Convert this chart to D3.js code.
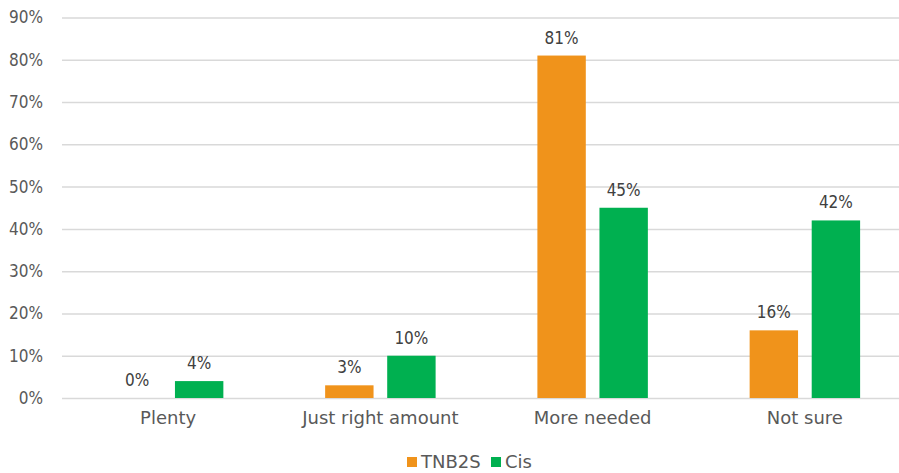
<!DOCTYPE html>
<html><head><meta charset="utf-8">
<script src="https://cdn.jsdelivr.net/npm/d3@7"></script>
<style>body{margin:0;background:#fff}svg{display:block}</style>
</head><body>
<svg id="c" width="899" height="473"></svg>
<script>
const categories = ["Plenty", "Just right amount", "More needed", "Not sure"];
const seriesNames = ["TNB2S", "Cis"];
const tnb2s = [0, 3, 81, 16];
const cis = [4, 10, 45, 42];
const colors = ["#F0931B", "#00B050"];
const yTicks = [0, 10, 20, 30, 40, 50, 60, 70, 80, 90];

const svg = d3.select("#c");
const W = 899;
const x = d3.scaleBand().domain(categories).range([62, 911]).paddingInner(0).paddingOuter(0);
const y = d3.scaleLinear().domain([0, 90]).range([398, 17.5]);
const xs = d3.scaleBand().domain(seriesNames).range([0, x.bandwidth()]).paddingInner(0.22).paddingOuter(0.82);

const numFont = "'DejaVu Sans Condensed', 'DejaVu Sans', sans-serif";
const txtFont = "'DejaVu Sans', sans-serif";
const grey = "#595959";

// gridlines + y axis
const yAxis = d3.axisLeft(y).tickValues(yTicks).tickFormat(d => d + "%").tickSize(-(W - 62)).tickPadding(19);
const ga = svg.append("g").attr("transform", "translate(62,0)").call(yAxis);
ga.select(".domain").remove();
ga.selectAll(".tick line").attr("stroke", "#D9D9D9").attr("stroke-width", 1.5);
ga.selectAll(".tick text").attr("fill", grey).style("font-family", numFont).style("font-size", "17px");

// bars
const data = categories.map((c, i) => ({c, vals: [tnb2s[i], cis[i]]}));
const groups = svg.append("g").selectAll("g").data(data).join("g")
  .attr("transform", d => `translate(${x(d.c)},0)`);
groups.selectAll("rect").data(d => d.vals.map((v, j) => ({v, s: seriesNames[j], j})))
  .join("rect")
  .attr("x", d => xs(d.s)).attr("width", xs.bandwidth())
  .attr("y", d => y(d.v)).attr("height", d => y(0) - y(d.v))
  .attr("fill", d => colors[d.j]);
groups.selectAll("text").data(d => d.vals.map((v, j) => ({v, s: seriesNames[j]})))
  .join("text")
  .attr("x", d => xs(d.s) + xs.bandwidth() / 2)
  .attr("y", d => y(d.v) - 12)
  .attr("text-anchor", "middle").attr("fill", "#404040")
  .style("font-family", numFont).style("font-size", "17px")
  .text(d => d.v + "%");

// x axis labels
const xAxis = d3.axisBottom(x).tickSize(0).tickPadding(13);
const gx = svg.append("g").attr("transform", "translate(0,398)").call(xAxis);
gx.select(".domain").remove();
gx.selectAll(".tick text").attr("fill", grey).style("font-family", txtFont).style("font-size", "18px");

// legend
const legX = [407, 491];
const leg = svg.append("g").selectAll("g").data(seriesNames).join("g")
  .attr("transform", (d, i) => `translate(${legX[i]},457)`);
leg.append("rect").attr("width", 10).attr("height", 10).attr("fill", (d, i) => colors[i]);
leg.append("text").attr("x", 14).attr("y", 11).attr("fill", grey)
  .style("font-family", txtFont).style("font-size", "18px").text(d => d);
</script>
</body></html>
